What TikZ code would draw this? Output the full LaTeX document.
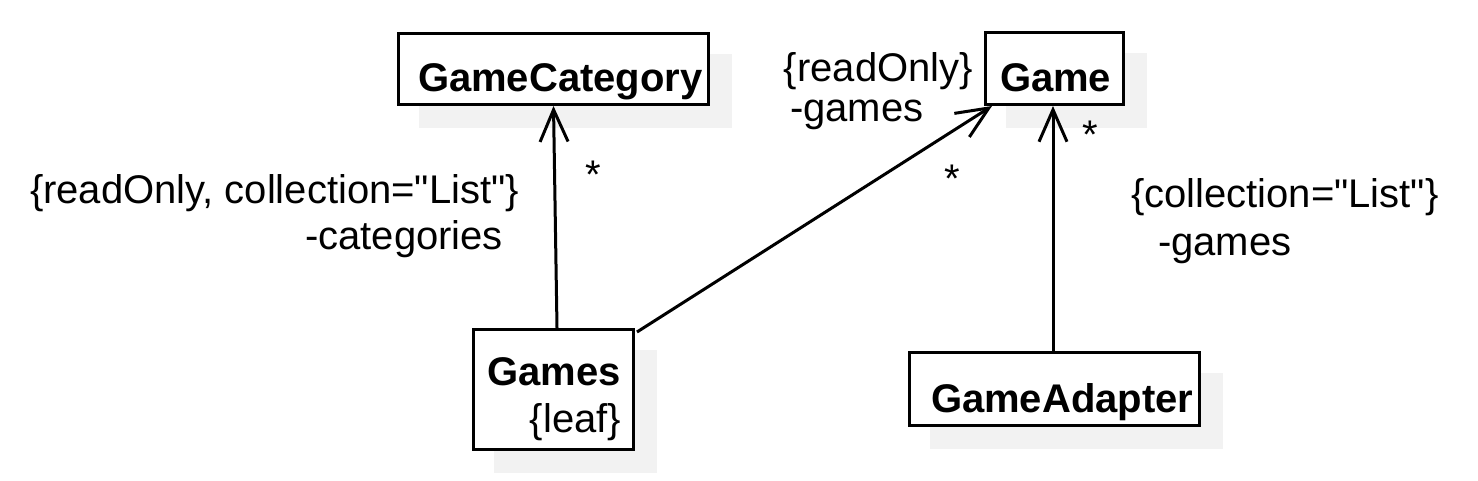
\documentclass[tikz,border=0pt]{standalone}
\usepackage{fontspec}
\setmainfont{Liberation Sans}
\newfontfamily\noligfont{Liberation Sans}
\usetikzlibrary{arrows.meta,calc}
\definecolor{shadowgray}{RGB}{242,242,242}
\newcommand{\dq}{{\noligfont\symbol{"22}}}
\tikzset{
  umlbox/.style={draw=black, fill=white, line width=3pt, inner sep=0pt},
  shadowbox/.style={fill=shadowgray, draw=none, inner sep=0pt},
  lbl/.style={inner sep=0pt, outer sep=0pt, font=\fontsize{40}{48}\selectfont},
  blbl/.style={lbl, font=\fontsize{40}{48}\selectfont\bfseries},
  assoc/.style={line width=3pt, -{Straight Barb[length=32pt,width=28pt]}},
  plain/.style={line width=3pt}
}
\begin{document}
\begin{tikzpicture}[x=1pt,y=-1pt]
\useasboundingbox (0,0) rectangle (1478,481);
% shadows
\node[shadowbox, minimum width=313pt, minimum height=74pt] (gcs) at (575.5,91) {};
\node[shadowbox, minimum width=141pt, minimum height=75pt] (gms) at (1076.5,90.5) {};
\node[shadowbox, minimum width=163pt, minimum height=123pt] (gss) at (575.5,411.5) {};
\node[shadowbox, minimum width=293pt, minimum height=76pt] (gas) at (1076.5,411) {};
% boxes
\node[umlbox, minimum width=310pt, minimum height=71pt] (gc) at (553.5,69) {};
\node[umlbox, minimum width=138pt, minimum height=72pt] (game) at (1054.5,68.5) {};
\node[umlbox, minimum width=160pt, minimum height=120pt] (gs) at (553.5,389.5) {};
\node[umlbox, minimum width=290pt, minimum height=73pt] (ga) at (1054.5,389) {};
% box texts
\node[blbl, anchor=base west] (gct) at (418,92) {GameCategory};
\node[blbl, anchor=base west] (gamet) at (1000,92) {Game};
\node[blbl, anchor=base east] (gst) at (621,385) {Games};
\node[lbl, anchor=base east] (gsleaf) at (621,432) {\{leaf\}};
\node[blbl, anchor=base west] (gat) at (931,412) {GameAdapter};
% connector end points
\coordinate (e1s) at ($(gs.north)+(3.5,0)$);
\coordinate (e2s) at ($(gs.north east)+(2,4)$);
\coordinate (e2e) at ($(game.south west)+(8,0)$);
\coordinate (e3s) at ($(ga.north)+(-1.5,0)$);
\coordinate (e3e) at ($(game.south)+(-1.5,0)$);
% connectors
\draw[assoc] (e1s) -- (gc.south);
\draw[assoc] (e2s) -- (e2e);
\draw[assoc] (e3s) -- (e3e);
% labels
\node[lbl, anchor=base west] (l1a) at (30,204) {\{readOnly, collection=\dq List\dq\}};
\node[lbl, anchor=base east] (l1b) at (503,250) {-categories};
\node[lbl] (s1) at (593,175) {*};
\node[lbl, anchor=base east] (l2a) at (973,82) {\{readOnly\}};
\node[lbl, anchor=base west] (l2b) at (790,122) {-games};
\node[lbl] (s2) at (952,179) {*};
\node[lbl] (s3) at (1090,135) {*};
\node[lbl, anchor=base west] (l3a) at (1131,208) {\{collection=\dq List\dq\}};
\node[lbl, anchor=base west] (l3b) at (1158,255) {-games};
\end{tikzpicture}
\end{document}
